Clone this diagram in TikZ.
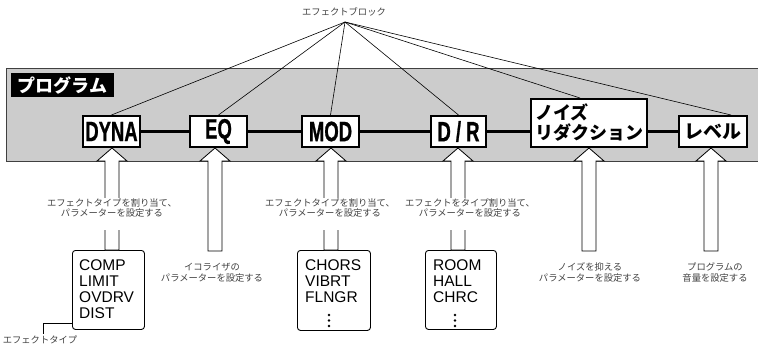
\documentclass[tikz,border=0pt]{standalone}
\usepackage{fontspec}
\setmainfont{Liberation Sans}
\newfontfamily\jp{Noto Sans CJK JP}
\newfontfamily\cond[FakeStretch=0.66, FakeBold=0.8]{Liberation Sans}
\usetikzlibrary{calc}
\tikzset{
  fx/.style={draw, line width=2pt, fill=white, inner sep=0pt,
    font=\cond\bfseries\fontsize{28}{28}\selectfont},
  jpfx/.style={fx, font=\jp\bfseries\fontsize{18}{20}\selectfont},
  small/.style={font=\jp\fontsize{9.3}{10.6}\selectfont, text=black!75, align=center, inner sep=0pt},
  typebox/.style={draw, line width=0.9pt, rounded corners=3pt, fill=white, inner sep=0pt, anchor=north west},
  items/.style={font=\fontsize{15.5}{16.3}\selectfont, align=left, inner sep=0pt, anchor=north west},
  hollow/.style={draw, line width=0.8pt, fill=white, line join=miter},
  thinline/.style={line width=0.6pt},
  chain/.style={line width=2.5pt},
}
\newcommand\hollowarrow[2]{%
  \draw[hollow] let \p1=(#1), \p2=(#2) in
    (\x1,\y1) -- (\x1+15pt,\y1-13pt) -- (\x1+7pt,\y1-13pt) -- (\x1+7pt,\y2)
    -- (\x1-7pt,\y2) -- (\x1-7pt,\y1-13pt) -- (\x1-15pt,\y1-13pt) -- cycle;}
\begin{document}
\begin{tikzpicture}[x=1pt,y=-1pt]
\useasboundingbox (0,0) rectangle (758,345);
% program area
\draw[fill=black!20, draw=black!75, line width=1pt] (6,69) rectangle (760,161);
\node[fill=black, text=white, font=\jp\bfseries\fontsize{18}{18}\selectfont,
  minimum width=103pt, minimum height=24pt, inner sep=0pt] (prog) at (62.5,85) {プログラム};
% effect block label
\node[small] (fblabel) at (344,12) {エフェクトブロック};
\coordinate (fb) at (345,22);
% boxes
\node[fx, minimum width=57pt, minimum height=31pt] (dyna) at (111.5,131.5) {DYNA};
\node[fx, minimum width=57pt, minimum height=31pt] (eq) at (218.5,131.5) {EQ};
\node[fx, minimum width=57pt, minimum height=31pt] (mod) at (330.5,131.5) {MOD};
\node[fx, minimum width=55pt, minimum height=31pt] (dr) at (458.5,131.5) {D / R};
\node[jpfx, minimum width=116pt, minimum height=48pt, align=left] (nr) at (589,123) {ノイズ\\リダクション};
\node[jpfx, font=\jp\bfseries\fontsize{19}{19}\selectfont, minimum width=68pt, minimum height=31pt] (lev) at (713,131.5) {レベル};
% lines from effect block label
\draw[thinline] (fb) -- (dyna.north);
\draw[thinline] (fb) -- (eq.north);
\draw[thinline] (fb) -- (mod.north);
\draw[thinline] (fb) -- (dr.north);
\draw[thinline] (fb) -- ($(nr.north)+(-9,0)$);
\draw[thinline] (fb) -- ($(lev.north)+(18,0)$);
% chain
\draw[chain] (dyna.east) -- (eq.west);
\draw[chain] (eq.east) -- (mod.west);
\draw[chain] (mod.east) -- (dr.west);
\draw[chain] (dr.east) -- (dr.east -| nr.west);
\draw[chain] (lev.west -| nr.east) -- (lev.west);
% type boxes
\node[typebox, minimum width=72pt, minimum height=79pt] (dtypes) at (72,250) {};
\node[items] (dlist) at (79,259) {COMP\\LIMIT\\OVDRV\\DIST};
\node[typebox, minimum width=73pt, minimum height=80pt] (mtypes) at (297,250) {};
\node[items] (mlist) at (305,259) {CHORS\\VIBRT\\FLNGR};
\node[typebox, minimum width=71pt, minimum height=79pt] (rtypes) at (425,250) {};
\node[items] (rlist) at (433,259) {ROOM\\HALL\\CHRC};
\foreach \yy in {315,320.5,326} {
  \fill (329,\yy) circle (1.3pt);
  \fill (455,\yy) circle (1.3pt);
}
% arrows
\coordinate (a1t) at (112,148); \coordinate (a1b) at (112,250);
\coordinate (a2t) at (215,148); \coordinate (a2b) at (215,251);
\coordinate (a3t) at (331,148); \coordinate (a3b) at (331,250);
\coordinate (a4t) at (458,148); \coordinate (a4b) at (458,250);
\coordinate (a5t) at (589,148); \coordinate (a5b) at (589,251);
\coordinate (a6t) at (711,148); \coordinate (a6b) at (711,251);
\hollowarrow{a1t}{a1b}
\hollowarrow{a2t}{a2b}
\hollowarrow{a3t}{a3b}
\hollowarrow{a4t}{a4b}
\hollowarrow{a5t}{a5b}
\hollowarrow{a6t}{a6b}
% gaps for labels in shafts
\fill[white] (104,198) rectangle (120,230);
\fill[white] (323,198) rectangle (339,230);
\fill[white] (450,198) rectangle (466,230);
% labels
\node[small] (l1) at (112,208) {エフェクトタイプを割り当て、\\パラメーターを設定する};
\node[small] (l2) at (212,272.5) {イコライザの\\パラメーターを設定する};
\node[small] (l3) at (330,208) {エフェクトタイプを割り当て、\\パラメーターを設定する};
\node[small] (l4) at (470,208) {エフェクトをタイプ割り当て、\\パラメーターを設定する};
\node[small] (l5) at (590,272.5) {ノイズを抑える\\パラメーターを設定する};
\node[small] (l6) at (715,272.5) {プログラムの\\音量を設定する};
% effect type label
\node[small] (tlabel) at (40,339.5) {エフェクトタイプ};
\draw[thinline] ($(dtypes.south west)+(0,-7)$) -| ($(tlabel.north)+(3,-1)$);
\end{tikzpicture}
\end{document}
